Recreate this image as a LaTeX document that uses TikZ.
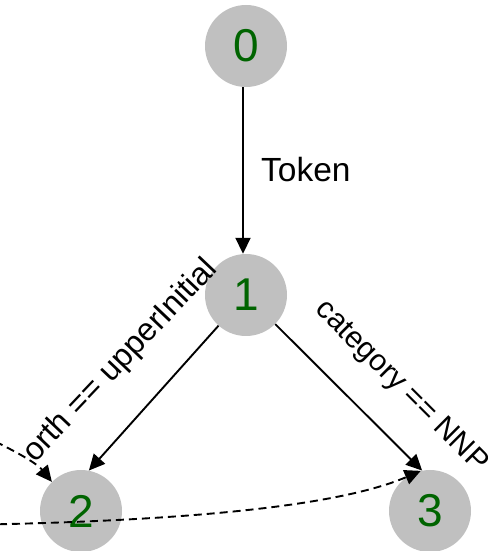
\documentclass[tikz,border=0pt]{standalone}
\usepackage{fontspec}
\setmainfont{Liberation Sans}
\usetikzlibrary{arrows.meta}
\definecolor{nodegray}{HTML}{C0C0C0}
\definecolor{numgreen}{HTML}{006400}
\begin{document}
\begin{tikzpicture}[x=1pt,y=1pt,
  state/.style={circle, fill=nodegray, draw=none, minimum size=82pt, inner sep=0pt,
    text=numgreen, font=\fontsize{46}{46}\selectfont},
  lbl/.style={font=\fontsize{32}{32}\selectfont, inner sep=0pt},
  edgeline/.style={line width=1.9pt, -{Triangle[length=16pt,width=15pt]}},
  dashline/.style={edgeline, dash pattern=on 8pt off 5pt}]
\useasboundingbox (0,0) rectangle (487,551);
\clip (0,0) rectangle (487,551);
\node[state] (n0) at (246,505) {0};
\node[state] (n1) at (246,256) {1};
\node[state] (n2) at (81,40) {2};
\node[state] (n3) at (430,40) {3};
\coordinate (c1) at (-40,126);
\coordinate (c2) at (-40,26);
\draw[edgeline] ([xshift=-3pt]n0.south) -- ([xshift=-3pt]n1.north);
\draw[edgeline] (n1) -- (n2.79);
\draw[edgeline] (n1) -- (n3.101);
\node[lbl, anchor=west, font=\fontsize{33.5}{33.5}\selectfont] (t01) at (261,381) {Token};
\node[lbl, rotate=46.5] (t12) at (121,190) {orth == upperInitial};
\node[lbl, rotate=-45, font=\fontsize{30}{30}\selectfont] (t13) at (401,164) {category == NNP};
\draw[dashline] (c1) .. controls (0,108) and (35,90) .. (n2.135);
\draw[dashline] (c2) .. controls (150,29) and (330,41) .. (n3.103);
\end{tikzpicture}
\end{document}
